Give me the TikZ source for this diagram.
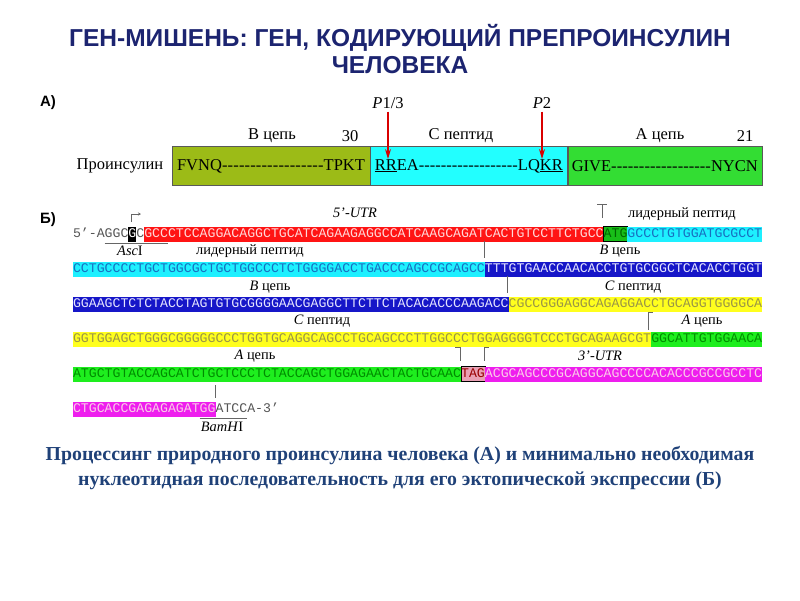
\documentclass[tikz,border=0pt]{standalone}
\usepackage{fontspec}
\setmainfont{Liberation Serif}
\setsansfont{Liberation Sans}
\setmonofont{Liberation Mono}
\usetikzlibrary{positioning, arrows.meta}

\definecolor{titleblue}{HTML}{1C2470}
\definecolor{captblue}{HTML}{1F4178}
\definecolor{bolive}{HTML}{9CBB17}
\definecolor{bcyan}{HTML}{22FFFF}
\definecolor{bgreen}{HTML}{33DD33}
\definecolor{utrred}{HTML}{FF1414}
\definecolor{leadcyan}{HTML}{1EF0FF}
\definecolor{chblue}{HTML}{1616C8}
\definecolor{cyell}{HTML}{FFFF1E}
\definecolor{achgreen}{HTML}{1EEE1E}
\definecolor{utrmag}{HTML}{EE1EEE}
\definecolor{stoppink}{HTML}{E8A0B4}
\definecolor{plaingray}{HTML}{555555}

\newcommand\seqfont{\fontsize{13.2}{14}\ttfamily}
\newcommand\lblfont{\fontsize{14.4}{15}\selectfont}
\newcommand\barfont{\fontsize{16.5}{17}\selectfont}

\tikzset{
    seq/.style={font=\seqfont, inner sep=0pt, outer sep=0pt, minimum height=15pt,
        text height=8.5pt, text depth=1.5pt, anchor=west},
    lbl/.style={font=\lblfont, inner sep=0pt},
    bar/.style={draw=gray!70!black, minimum height=39pt, inner sep=0pt, font=\barfont},
    tickln/.style={draw=gray!80!black, line width=0.8pt},
    cut/.style={draw=red!85!black, line width=1.2pt, -{Stealth[length=10pt, width=6pt]}}
}

\begin{document}
\begin{tikzpicture}[x=1pt, y=-1pt]
\useasboundingbox (0,0) rectangle (800,600);

% title
\node[font=\sffamily\bfseries\fontsize{24.5}{27}\selectfont, text=titleblue, align=center]
    (title) at (400,49) {ГЕН-МИШЕНЬ: ГЕН, КОДИРУЮЩИЙ ПРЕПРОИНСУЛИН\\ЧЕЛОВЕКА};

% A) proinsulin
\node[font=\sffamily\bfseries\fontsize{15}{16}\selectfont] (pa) at (48,103) {А)};
\node[bar, fill=bolive, minimum width=198pt] (bB) at (271,166)
    {\makebox[188pt]{FVNQ\xleaders\hbox{-}\hfill TPKT}};
\node[bar, fill=bcyan, minimum width=197pt, right=0pt of bB] (bC)
    {\makebox[188pt]{\underline{RR}EA\xleaders\hbox{-}\hfill LQ\underline{KR}}};
\node[bar, fill=bgreen, minimum width=194pt, right=0pt of bC] (bA)
    {\makebox[186pt]{GIVE\xleaders\hbox{-}\hfill NYCN}};
\node[font=\barfont, left=5pt of bB] (proins) {Проинсулин};
\node[lbl, font=\barfont] (lB) at (272,136) {В цепь};
\node[lbl, font=\barfont] (n30) at (350,136) {30};
\node[lbl, font=\barfont] (lC) at (461,136) {С пептид};
\node[lbl, font=\barfont] (lA) at (660,136) {А цепь};
\node[lbl, font=\barfont] (n21) at (745,136) {21};
\node[lbl, font=\barfont] (p13) at (388,103) {\textit{P}1/3};
\node[lbl, font=\barfont] (p2) at (542,103) {\textit{P}2};
\coordinate (p13e) at (388,159);
\coordinate (p2e) at (542,159);
\draw[cut] (p13.south) ++(0,3) -- (p13e);
\draw[cut] (p2.south) ++(0,3) -- (p2e);

% B) nucleotide sequence
\node[font=\sffamily\bfseries\fontsize{15}{16}\selectfont] (pb) at (48,220) {Б)};

% row 1
\node[seq, text=plaingray] (r1a) at (73,234) {5’-AGGC};
\node[seq, fill=black, text=white, right=0pt of r1a] (r1b) {G};
\node[seq, text=plaingray, right=0pt of r1b] (r1c) {C};
\node[seq, fill=utrred, text=red!15, right=0pt of r1c] (r1d) {GCCCTCCAGGACAGGCTGCATCAGAAGAGGCCATCAAGCAGATCACTGTCCTTCTGCC};
\node[seq, fill=achgreen!80!black, text=green!40!black, draw=black, line width=0.8pt, right=0pt of r1d] (r1e) {ATG};
\node[seq, fill=leadcyan, text=cyan!50!blue, right=0pt of r1e] (r1f) {GCCCTGTGGATGCGCCT};
\draw[tickln] (73+4*7.92,243) -- (73+12*7.92,243);
\draw[tickln, -{Stealth[length=3pt, width=3pt]}] (131,222) -- (131,214) -- (141,214);
\node[lbl, font=\lblfont\itshape] (utr5) at (355,213) {5’-UTR};
\draw[tickln] (602,218) -- (602,204);
\draw[tickln] (597,204) -- (607,204);
\node[lbl] (lead1) at (682,214) {лидерный пептид};

% row 2
\node[lbl] (asc) at (130,251) {\textit{Asc}I};
\node[lbl] (lead2) at (250,251) {лидерный пептид};
\draw[tickln] (484,241) -- (484,258);
\node[lbl] (bch1) at (620,251) {\textit{B} цепь};
\node[seq, fill=leadcyan, text=cyan!50!blue] (r2a) at (73,269) {CCTGCCCCTGCTGGCGCTGCTGGCCCTCTGGGGACCTGACCCAGCCGCAGCC};
\node[seq, fill=chblue, text=blue!10, right=0pt of r2a] (r2b) {TTTGTGAACCAACACCTGTGCGGCTCACACCTGGT};

% row 3
\node[lbl] (bch2) at (270,287) {\textit{B} цепь};
\draw[tickln] (507,276) -- (507,293);
\node[lbl] (cpep1) at (633,287) {\textit{C} пептид};
\node[seq, fill=chblue, text=blue!10] (r3a) at (73,304) {GGAAGCTCTCTACCTAGTGTGCGGGGAACGAGGCTTCTTCTACACACCCAAGACC};
\node[seq, fill=cyell, text=yellow!55!black, right=0pt of r3a] (r3b) {CGCCGGGAGGCAGAGGACCTGCAGGTGGGGCA};

% row 4
\node[lbl] (cpep2) at (322,321) {\textit{C} пептид};
\draw[tickln] (648,330) -- (648,312) -- (653,312);
\node[lbl] (ach1) at (702,321) {\textit{A} цепь};
\node[seq, fill=cyell, text=yellow!55!black] (r4a) at (73,339) {GGTGGAGCTGGGCGGGGGCCCTGGTGCAGGCAGCCTGCAGCCCTTGGCCCTGGAGGGGTCCCTGCAGAAGCGT};
\node[seq, fill=achgreen, text=green!55!black, right=0pt of r4a] (r4b) {GGCATTGTGGAACA};

% row 5
\node[lbl] (ach2) at (255,356) {\textit{A} цепь};
\draw[tickln] (455,347) -- (460,347) -- (460,361);
\draw[tickln] (489,347) -- (484,347) -- (484,361);
\node[lbl, font=\lblfont\itshape] (utr3) at (600,356) {3’-UTR};
\node[seq, fill=achgreen, text=green!55!black] (r5a) at (73,374) {ATGCTGTACCAGCATCTGCTCCCTCTACCAGCTGGAGAACTACTGCAAC};
\node[seq, fill=stoppink, text=red!60!black, draw=black, line width=0.6pt, right=0pt of r5a] (r5b) {TAG};
\node[seq, fill=utrmag, text=magenta!20, right=0pt of r5b] (r5c) {ACGCAGCCCGCAGGCAGCCCCACACCCGCCGCCTC};

% row 6
\draw[tickln] (215,385) -- (215,398);
\node[seq, fill=utrmag, text=magenta!20] (r6a) at (73,409) {CTGCACCGAGAGAGATGG};
\node[seq, text=plaingray, right=0pt of r6a] (r6b) {ATCCA-3’};
\draw[tickln] (73+16*7.92,418) -- (73+22*7.92,418);
\node[lbl] (bam) at (222,427) {\textit{BamH}I};

% caption
\node[font=\bfseries\fontsize{19.8}{25}\selectfont, text=captblue, align=center] (capt) at (400,468)
    {Процессинг природного проинсулина человека (А) и минимально необходимая\\
     нуклеотидная последовательность для его эктопической экспрессии (Б)};
\end{tikzpicture}
\end{document}
